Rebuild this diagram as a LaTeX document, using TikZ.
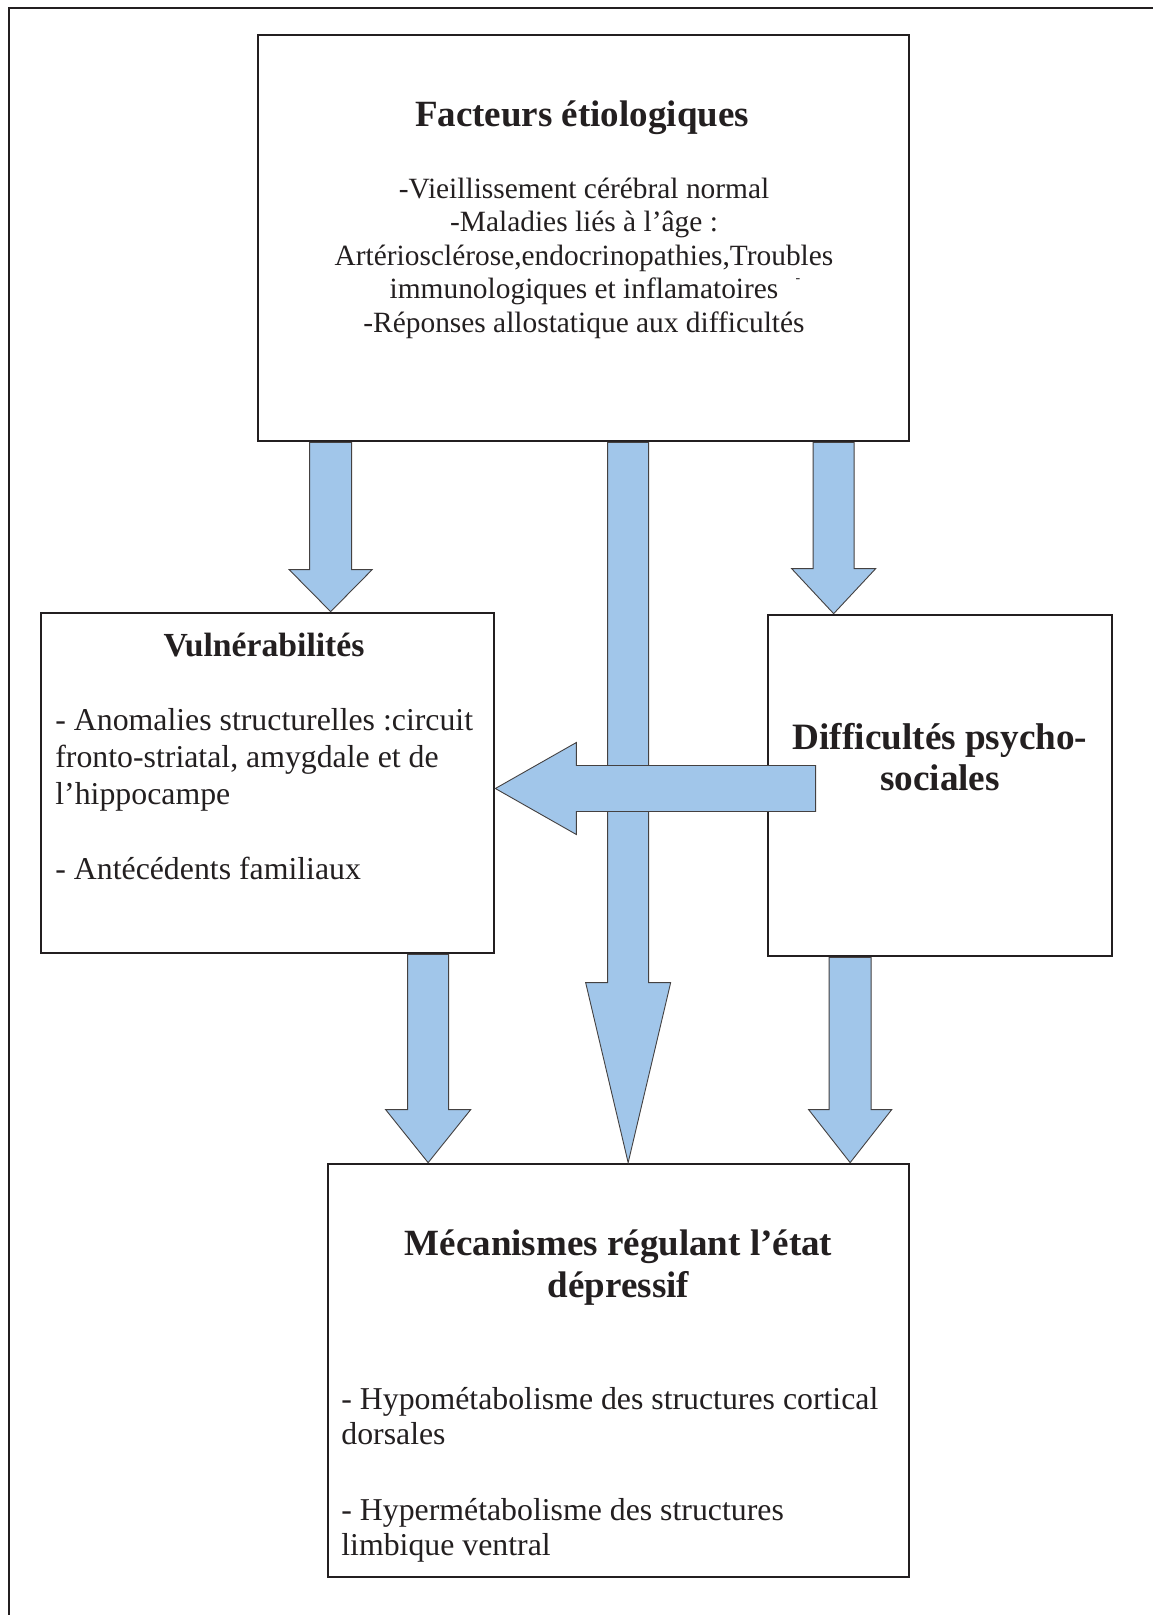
\documentclass[tikz,border=0pt]{standalone}
\usepackage{fontspec}
\setmainfont{Liberation Serif}
\usetikzlibrary{calc}
\definecolor{bleuFleche}{RGB}{161,198,234}
\definecolor{encre}{RGB}{35,31,32}
\tikzset{
  boite/.style={draw=encre, line width=1.35pt, fill=white, inner sep=0pt},
  flecheBleue/.style={draw=encre!85, line width=0.45pt, fill=bleuFleche, line join=miter},
  titre/.style={font=\bfseries\fontsize{18.5}{21}\selectfont, text=encre, inner sep=0pt, align=center},
  texte/.style={font=\fontsize{15.9}{18.5}\selectfont, text=encre, inner sep=0pt},
}
% fleche pleine : depart, pointe, demi-tige, demi-tete, longueur tete
\newcommand{\flechebloc}[5]{%
  \coordinate (fh) at ($(#2)!#5!(#1)$);
  \draw[flecheBleue] ($(#1)!#3!90:(#2)$) -- ($(fh)!#3!-90:(#1)$) -- ($(fh)!#4!-90:(#1)$) -- (#2)
    -- ($(fh)!#4!90:(#1)$) -- ($(fh)!#3!90:(#1)$) -- ($(#1)!#3!-90:(#2)$) -- cycle;}
\begin{document}
\begin{tikzpicture}[x=0.5pt,y=-0.5pt]
    \useasboundingbox (0,0) rectangle (1153,1615);
    \fill[white] (0,0) rectangle (1153,1615);
    \draw[encre, line width=1pt] (9,1615) -- (9,8) -- (1153,8);
    %\node[] at (0,0) {};
    \node[boite, minimum width=325.5pt, minimum height=203pt] (fact) at (583.5,238) {};
    \node[boite, minimum width=226.5pt, minimum height=170pt] (vuln) at (267.5,783) {};
    \node[boite, minimum width=172pt, minimum height=170.5pt] (psy) at (940,785.5) {};
    \node[boite, minimum width=290.5pt, minimum height=206.5pt] (meca) at (618.5,1370.5) {};

    \node[titre] (factTitre) at (582,118) {Facteurs étiologiques};
    \node[texte, font=\fontsize{14.7}{16.75}\selectfont, align=center] (factTexte) at (584,258)
      {-Vieillissement cérébral normal\\-Maladies liés à l’âge :\\Artériosclérose,endocrinopathies,Troubles\\immunologiques et inflamatoires\\-Réponses allostatique aux difficultés};
    \node[texte, font=\fontsize{7}{7}\selectfont] (tiret) at (798,281) {-};

    \node[titre, font=\bfseries\fontsize{16.85}{19}\selectfont] (vulnTitre) at (264,645) {Vulnérabilités};
    \node[texte, anchor=west, align=left] (vulnTexte) at (55,794.5)
      {- Anomalies structurelles :circuit\\fronto-striatal, amygdale et de\\l’hippocampe\\[19pt]- Antécédents familiaux};

    \node[titre, font=\bfseries\fontsize{18.6}{20.5}\selectfont] (psyTitre) at (940,757) {Difficultés psycho-\\sociales};

    \node[titre] (mecaTitre) at (618.5,1268) {Mécanismes régulant l’état\\dépressif};
    \node[texte, anchor=west, align=left, font=\fontsize{15.9}{17.5}\selectfont] (mecaTexte) at (341,1475)
      {- Hypométabolisme des structures cortical\\dorsales\\[20.5pt]- Hypermétabolisme des structures\\limbique ventral};

    % points de depart des fleches
    \coordinate (fv) at ($(fact.south west)+(74,0)$);
    \coordinate (fp) at ($(fact.south west)+(577,0)$);
    \coordinate (fm) at ($(fact.south west)+(371.5,0)$);
    \coordinate (vm) at ($(vuln.south west)+(388.5,0)$);
    \coordinate (pm) at ($(psy.south west)+(83.5,0)$);
    \coordinate (pv) at ($(psy.west)+(49,3)$);

    \flechebloc{fv}{fv |- vuln.north}{10.5pt}{20.75pt}{21pt}
    \flechebloc{fp}{fp |- psy.north}{10.25pt}{21pt}{22.5pt}
    \flechebloc{fm}{fm |- meca.north}{10.25pt}{21.25pt}{90pt}
    \flechebloc{vm}{vm |- meca.north}{10.25pt}{21.25pt}{26.5pt}
    \flechebloc{pm}{pm |- meca.north}{10.5pt}{20.75pt}{26.5pt}
    \flechebloc{pv}{pv -| vuln.east}{11.5pt}{23pt}{40.5pt}

\end{tikzpicture}
\end{document}
